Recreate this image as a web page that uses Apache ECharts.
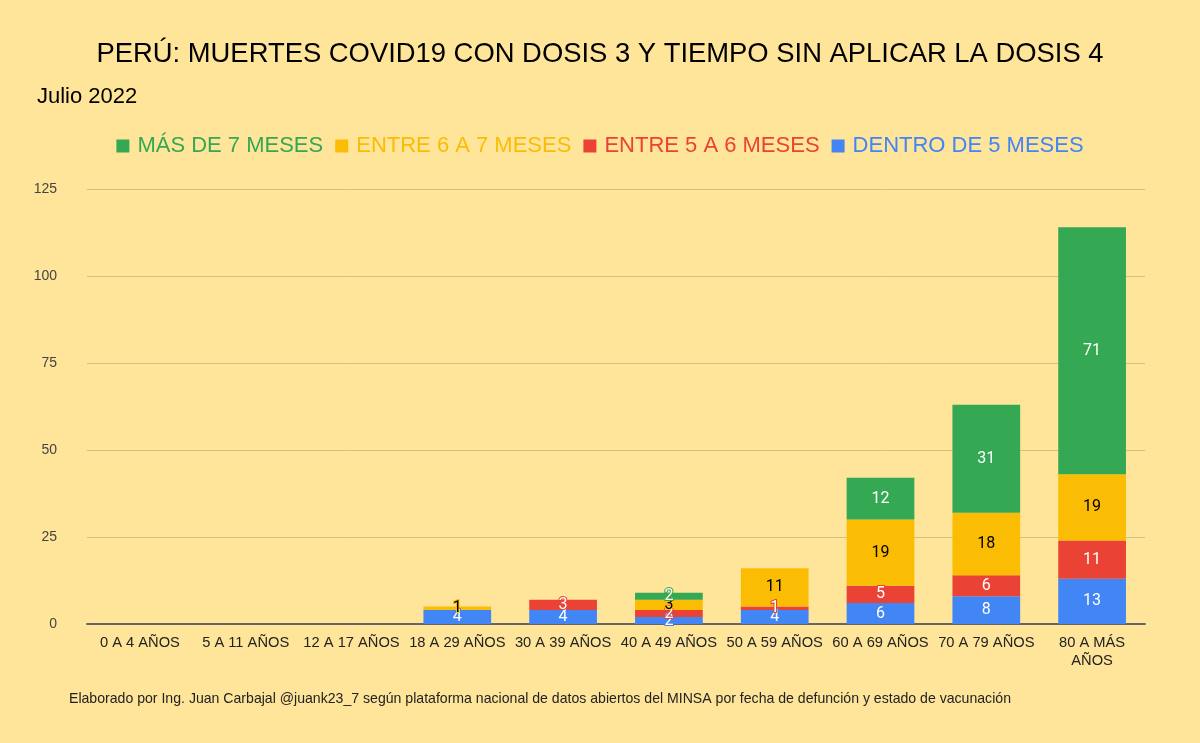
<!DOCTYPE html>
<html>
<head>
<meta charset="utf-8">
<script src="https://cdn.jsdelivr.net/npm/echarts@6/dist/echarts.min.js"></script>
<style>
  html, body { margin: 0; padding: 0; background: #FFE599; }
  #chart { width: 1200px; height: 743px; }
</style>
</head>
<body>
<div id="chart"></div>
<script>
const categories = ['0 A 4 AÑOS', '5 A 11 AÑOS', '12 A 17 AÑOS', '18 A 29 AÑOS', '30 A 39 AÑOS',
  '40 A 49 AÑOS', '50 A 59 AÑOS', '60 A 69 AÑOS', '70 A 79 AÑOS', '80 A MÁS\nAÑOS']
const dentro5 = [0, 0, 0, 4, 4, 2, 4, 6, 8, 13]
const entre5a6 = [0, 0, 0, 0, 3, 2, 1, 5, 6, 11]
const entre6a7 = [0, 0, 0, 1, 0, 3, 11, 19, 18, 19]
const mas7 = [0, 0, 0, 0, 0, 2, 0, 12, 31, 71]
const yTicks = [0, 25, 50, 75, 100, 125]

const FONT = '"Liberation Sans", Arial, sans-serif'

function makeSeries(name, data, color, textColor) {
  return {
    name,
    type: 'bar',
    stack: 'total',
    data,
    barWidth: '64%',
    itemStyle: { color },
    label: {
      show: true,
      position: 'inside',
      color: textColor,
      fontFamily: 'Roboto, sans-serif',
      fontSize: 16,
      textBorderColor: color,
      textBorderWidth: 2,
      formatter: p => (p.value ? p.value : '')  // hide zero segments
    }
  }
}

const chart = echarts.init(document.getElementById('chart'))
chart.setOption({
  backgroundColor: '#FFE599',
  animation: false,
  title: [
    {
      text: 'PERÚ: MUERTES COVID19 CON DOSIS 3 Y TIEMPO SIN APLICAR LA DOSIS 4',
      left: 'center', top: 36,
      textStyle: { fontFamily: FONT, fontSize: 27.4, fontWeight: 'normal', color: '#000' }
    },
    {
      text: 'Julio 2022',
      left: 32, top: 81,
      textStyle: { fontFamily: FONT, fontSize: 22, fontWeight: 'normal', color: '#000' }
    },
    {
      text: 'Elaborado por Ing. Juan Carbajal @juank23_7 según plataforma nacional de datos abiertos del MINSA por fecha de defunción y estado de vacunación',
      left: 64, top: 687,
      textStyle: { fontFamily: FONT, fontSize: 14.1, fontWeight: 'normal', color: '#222' }
    }
  ],
  legend: {
    top: 130,
    left: 'center',
    data: ['MÁS DE 7 MESES', 'ENTRE 6 A 7 MESES', 'ENTRE 5 A 6 MESES', 'DENTRO DE 5 MESES'],
    icon: 'rect',
    itemWidth: 13,
    itemHeight: 13,
    itemGap: 12,
    textStyle: { fontFamily: FONT, fontSize: 22, color: 'inherit', padding: [0, 0, 0, 3] }
  },
  grid: { left: 87, right: 55, top: 189, bottom: 119, containLabel: false },
  xAxis: {
    type: 'category',
    data: categories,
    axisLine: { lineStyle: { color: '#666', width: 2 } },
    axisTick: { show: false },
    axisLabel: { fontFamily: FONT, fontSize: 14.7, color: '#222', margin: 10, lineHeight: 18, interval: 0 }
  },
  yAxis: {
    type: 'value',
    min: yTicks[0],
    max: yTicks[yTicks.length - 1],
    interval: 25,
    axisLine: { show: false },
    axisTick: { show: false },
    splitLine: { lineStyle: { color: '#D2C083', width: 1 } },
    axisLabel: { fontFamily: FONT, fontSize: 14, color: '#444', margin: 30 }
  },
  series: [
    makeSeries('DENTRO DE 5 MESES', dentro5, '#4285F4', '#fff'),
    makeSeries('ENTRE 5 A 6 MESES', entre5a6, '#EA4335', '#fff'),
    makeSeries('ENTRE 6 A 7 MESES', entre6a7, '#FBBC04', '#000'),
    makeSeries('MÁS DE 7 MESES', mas7, '#34A853', '#fff')
  ]
})
window.onresize = function () { chart.resize() }
</script>
</body>
</html>
